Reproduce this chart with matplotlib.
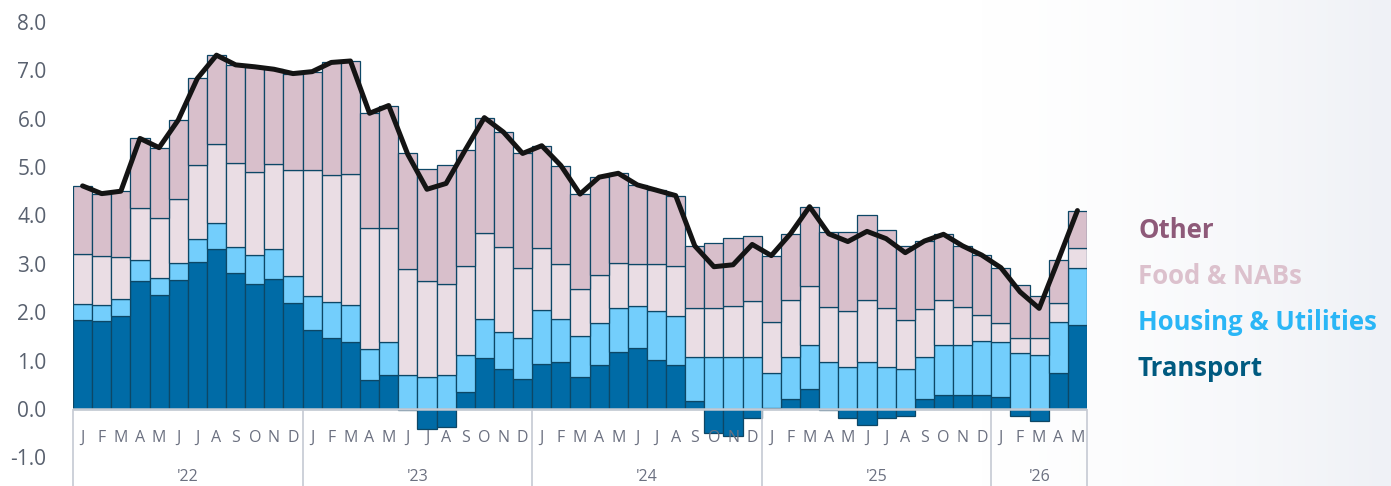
import numpy as np
import matplotlib.pyplot as plt
from matplotlib.colors import LinearSegmentedColormap


# Monthly contributions (percentage points), Jan 2022 - May 2026
months = ["J", "F", "M", "A", "M", "J", "J", "A", "S", "O", "N", "D"] * 4 + ["J", "F", "M", "A", "M"]
years = ["'22", "'23", "'24", "'25", "'26"]

transport = [1.84, 1.82, 1.93, 2.65, 2.36, 2.67, 3.03, 3.31, 2.80, 2.58, 2.69, 2.20,
             1.63, 1.47, 1.38, 0.60, 0.70, -0.02, -0.41, -0.38, 0.36, 1.05, 0.83, 0.63,
             0.93, 0.98, 0.67, 0.91, 1.17, 1.27, 1.01, 0.92, 0.17, -0.50, -0.56, -0.18,
             0.02, 0.20, 0.41, -0.03, -0.19, -0.34, -0.18, -0.14, 0.20, 0.30, 0.30, 0.29,
             0.25, -0.14, -0.25, 0.75, 1.74]
housing = [0.32, 0.32, 0.35, 0.43, 0.35, 0.35, 0.48, 0.53, 0.55, 0.61, 0.61, 0.55,
           0.70, 0.75, 0.77, 0.64, 0.68, 0.70, 0.67, 0.70, 0.76, 0.80, 0.77, 0.84,
           1.11, 0.88, 0.84, 0.87, 0.91, 0.86, 1.01, 1.01, 0.91, 1.08, 1.07, 1.07,
           0.73, 0.88, 0.91, 0.98, 0.86, 0.98, 0.86, 0.82, 0.87, 1.02, 1.02, 1.11,
           1.13, 1.15, 1.12, 1.05, 1.17]
food = [1.04, 1.02, 0.86, 1.07, 1.23, 1.31, 1.53, 1.64, 1.74, 1.70, 1.76, 2.19,
        2.61, 2.61, 2.70, 2.51, 2.37, 2.20, 1.97, 1.88, 1.84, 1.79, 1.75, 1.44,
        1.28, 1.14, 0.97, 0.99, 0.93, 0.86, 0.97, 1.03, 1.01, 1.00, 1.06, 1.16,
        1.05, 1.17, 1.23, 1.13, 1.17, 1.27, 1.23, 1.02, 0.99, 0.93, 0.79, 0.54,
        0.39, 0.32, 0.35, 0.40, 0.41]
other = [1.41, 1.29, 1.36, 1.44, 1.46, 1.64, 1.79, 1.83, 2.02, 2.18, 1.96, 1.99,
         2.03, 2.33, 2.34, 2.36, 2.52, 2.38, 2.31, 2.46, 2.39, 2.38, 2.37, 2.37,
         2.12, 2.03, 1.96, 2.02, 1.86, 1.64, 1.53, 1.45, 1.28, 1.36, 1.41, 1.35,
         1.37, 1.37, 1.63, 1.54, 1.62, 1.76, 1.61, 1.53, 1.41, 1.36, 1.26, 1.24,
         1.15, 1.09, 0.86, 0.88, 0.78]

labels = ["Other", "Food & NABs", "Housing & Utilities", "Transport"]
bar_colors = {"Transport": "#006ba6", "Housing & Utilities": "#73cefc",
              "Food & NABs": "#eadde4", "Other": "#d8bfcb"}
text_colors = {"Other": "#8e5a79", "Food & NABs": "#dcc1cd",
               "Housing & Utilities": "#2ab6f6", "Transport": "#005a80"}

T = np.array(transport)
H = np.array(housing)
F = np.array(food)
O = np.array(other)
total = T + H + F + O
x = np.arange(len(T))

fig = plt.figure(figsize=(13.91, 4.86), dpi=100)

# faint grey-blue wash at the far right of the background
bg = fig.add_axes([0, 0, 1, 1], zorder=-10)
bg.axis("off")
grad = np.clip((np.linspace(0, 1, 600) - 0.7) / 0.3, 0, 1) ** 1.5
cmap = LinearSegmentedColormap.from_list("wash", ["#ffffff", "#eff1f6"])
bg.imshow(grad[None, :], aspect="auto", cmap=cmap, extent=[0, 1, 0, 1])
bg.set_xlim(0, 1)
bg.set_ylim(0, 1)

ax = fig.add_axes([73 / 1391, 0, 1014 / 1391, 1])
ax.patch.set_alpha(0)

edge = "#0d4766"
base = np.maximum(T, 0)
ax.bar(x, T, width=1.0, color=bar_colors["Transport"], edgecolor=edge, linewidth=0.9)
ax.bar(x, H, bottom=base, width=1.0, color=bar_colors["Housing & Utilities"], edgecolor=edge, linewidth=0.9)
ax.bar(x, F, bottom=base + H, width=1.0, color=bar_colors["Food & NABs"], edgecolor=edge, linewidth=0.9)
ax.bar(x, O, bottom=base + H + F, width=1.0, color=bar_colors["Other"], edgecolor=edge, linewidth=0.9)

ax.plot(x, total, color="#141414", linewidth=3.6, solid_joinstyle="round", solid_capstyle="round", zorder=5)

ax.set_xlim(-0.5, len(T) - 0.5)
ax.set_ylim(-1.59, 8.45)
ax.set_yticks(np.arange(-1, 9, 1))
ax.set_yticklabels([f"{v:.1f}" for v in np.arange(-1, 9, 1)], family="Open Sans")
ax.tick_params(axis="y", length=0, pad=19, labelsize=15, labelcolor="#59616f")
ax.set_xticks([])
for s in ax.spines.values():
    s.set_visible(False)

# category axis: zero line, month letters, year groups
ax.axhline(0, color="#c5cad3", linewidth=1.8, zorder=4)
bounds = [-0.5, 11.5, 23.5, 35.5, 47.5, len(T) - 0.5]
ax.vlines(bounds, -1.59, 0, colors="#c5cad3", linewidth=1.2, clip_on=False)
for i, m in enumerate(months):
    ax.text(i, -0.6, m, ha="center", va="center", fontsize=11.5, color="#6b7080", family="Open Sans")
for k, yr in enumerate(years):
    ax.text((bounds[k] + bounds[k + 1]) / 2, -1.4, yr, ha="center", va="center",
            fontsize=11.5, color="#6b7080", family="Open Sans")

# legend as coloured labels
for j, lab in enumerate(labels):
    fig.text(1138 / 1391, 1 - (230 + 46 * j) / 486, lab, ha="left", va="center",
             fontsize=18.5, fontweight="bold", family="Open Sans", color=text_colors[lab])

fig.savefig("out.png", dpi=100)
